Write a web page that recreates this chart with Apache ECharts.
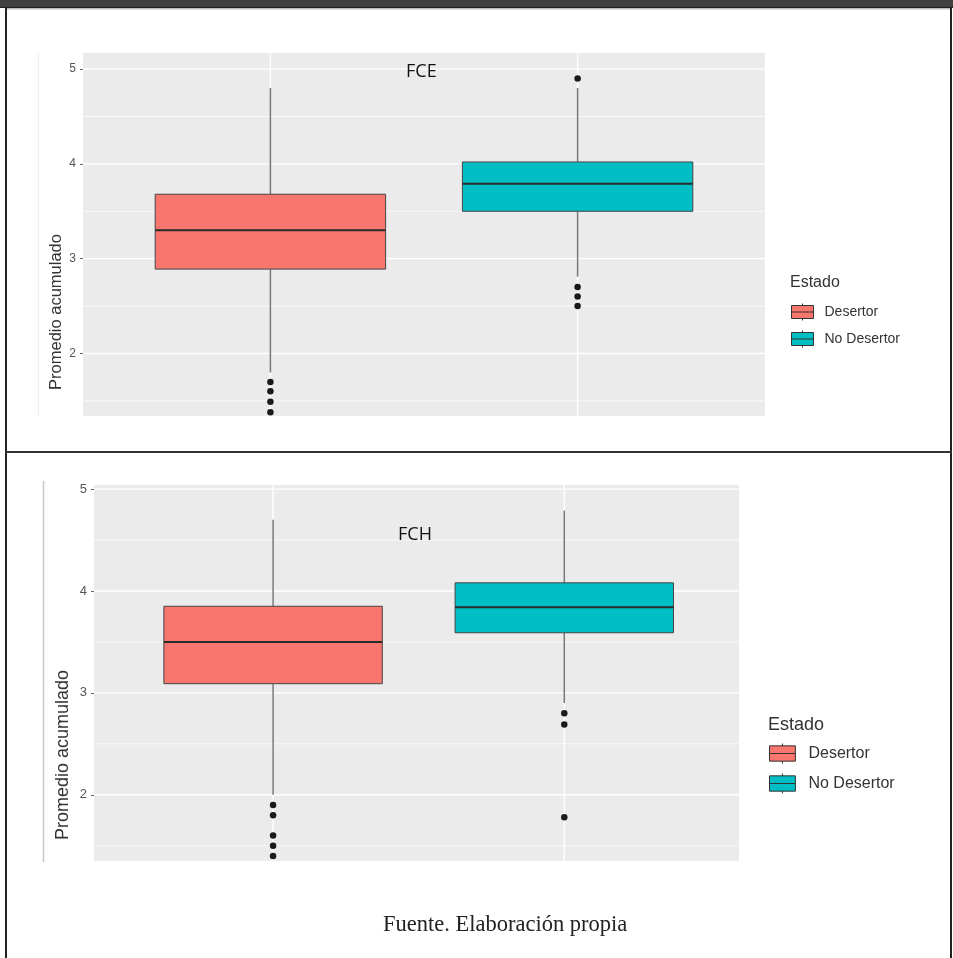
<!DOCTYPE html>
<html>
<head>
<meta charset="utf-8">
<script src="https://cdn.jsdelivr.net/npm/echarts@6/dist/echarts.min.js"></script>
<style>
  html, body { margin: 0; padding: 0; background: #fff; }
  #chart { width: 953px; height: 958px; }
</style>
</head>
<body>
<div id="chart"></div>
<script>
// categories and box values: [min whisker, Q1, median, Q3, max whisker]
const categories = ['Desertor', 'No Desertor'];
const colors = ['#F8766D', '#00BFC4'];
const fceBoxes = [
  [1.80, 2.89, 3.30, 3.68, 4.80],
  [2.81, 3.50, 3.79, 4.02, 4.80]
];
const fceOutliers = [
  [1.70, 1.60, 1.49, 1.38],
  [4.90, 2.70, 2.60, 2.50]
];
const fchBoxes = [
  [2.00, 3.09, 3.50, 3.85, 4.70],
  [2.90, 3.59, 3.84, 4.08, 4.79]
];
const fchOutliers = [
  [1.90, 1.80, 1.60, 1.50, 1.40],
  [2.80, 2.69, 1.78]
];
const yTicks = [2, 3, 4, 5];
const yMinor = [1.5, 2.5, 3.5, 4.5];

const boxWidth = 0.75;
const chart = echarts.init(document.getElementById('chart'));

// white ggplot-style grid lines, drawn through the axis scales
function gridSeries(idx) {
  const data = [];
  yTicks.forEach(v => data.push([1, v, 0]));
  yMinor.forEach(v => data.push([1, v, 1]));
  categories.forEach((c, i) => data.push([i + 1, 3, 2]));
  return {
    type: 'custom', xAxisIndex: idx, yAxisIndex: idx, silent: true, z: 1,
    clip: true, data: data, encode: { x: 0, y: 1 },
    renderItem: (params, api) => {
      const cs = params.coordSys;
      const kind = api.value(2);
      if (kind === 2) {
        const x = api.coord([api.value(0), 3])[0];
        return { type: 'line', shape: { x1: x, y1: cs.y, x2: x, y2: cs.y + cs.height },
          style: { stroke: '#ffffff', lineWidth: 1.4 } };
      }
      const y = api.coord([1, api.value(1)])[1];
      return { type: 'line', shape: { x1: cs.x, y1: y, x2: cs.x + cs.width, y2: y },
        style: { stroke: '#ffffff', lineWidth: kind === 0 ? 1.4 : 0.7 } };
    }
  };
}

function boxSeries(idx, boxes, i) {
  return {
    name: categories[i], type: 'custom', xAxisIndex: idx, yAxisIndex: idx, z: 3,
    itemStyle: { color: colors[i], borderColor: '#333' },
    data: [[i + 1].concat(boxes[i])],
    encode: { x: 0, y: [1, 2, 3, 4, 5] },
    renderItem: (params, api) => {
      const x = api.value(0);
      const px = api.coord([x, api.value(3)])[0];
      const yMin = api.coord([x, api.value(1)])[1];
      const yQ1 = api.coord([x, api.value(2)])[1];
      const yMed = api.coord([x, api.value(3)])[1];
      const yQ3 = api.coord([x, api.value(4)])[1];
      const yMax = api.coord([x, api.value(5)])[1];
      const w = api.size([boxWidth, 0])[0];
      return { type: 'group', children: [
        { type: 'line', shape: { x1: px, y1: yMax, x2: px, y2: yQ3 }, style: { stroke: '#777', lineWidth: 1.5 } },
        { type: 'line', shape: { x1: px, y1: yQ1, x2: px, y2: yMin }, style: { stroke: '#777', lineWidth: 1.5 } },
        { type: 'rect', shape: { x: px - w / 2, y: yQ3, width: w, height: yQ1 - yQ3 },
          style: { fill: colors[i], stroke: '#444', lineWidth: 1 } },
        { type: 'line', shape: { x1: px - w / 2, y1: yMed, x2: px + w / 2, y2: yMed },
          style: { stroke: '#2b2b2b', lineWidth: 2 } }
      ] };
    }
  };
}

function outlierSeries(idx, outliers) {
  const data = [];
  outliers.forEach((arr, i) => arr.forEach(v => data.push([i + 1, v])));
  return {
    type: 'scatter', xAxisIndex: idx, yAxisIndex: idx, z: 4, silent: true,
    symbolSize: 6.5, itemStyle: { color: '#1a1a1a', opacity: 1 }, data: data
  };
}

function yAxis(idx, min, max, fs) {
  return {
    type: 'value', gridIndex: idx, min: min, max: max,
    axisLine: { show: false },
    splitLine: { show: false },
    axisTick: { show: true, length: 3, customValues: yTicks, lineStyle: { color: '#666' } },
    axisLabel: { customValues: yTicks, color: '#555', fontSize: fs, margin: 7, fontFamily: 'Liberation Sans' }
  };
}

const keyIcon = 'path://M0,2L22,2L22,15L0,15Z M0,8.5L22,8.5 M11,0L11,2 M11,15L11,17';
const textFont = 'Liberation Sans';

chart.setOption({
  animation: false,
  title: [
    { text: 'FCE', left: 406, top: 63, padding: 0,
      textStyle: { fontSize: 18, fontWeight: 'normal', color: '#111', fontFamily: 'Open Sans' } },
    { text: 'FCH', left: 398, top: 526, padding: 0,
      textStyle: { fontSize: 18, fontWeight: 'normal', color: '#111', fontFamily: 'Open Sans' } },
    { text: 'Fuente. Elaboración propia', left: 383, top: 914, padding: 0,
      textStyle: { fontSize: 22.5, fontWeight: 'normal', color: '#222', fontFamily: 'Liberation Serif' } }
  ],
  grid: [
    { left: 83, top: 53, width: 682, height: 363, show: true, backgroundColor: '#EBEBEB', borderWidth: 0 },
    { left: 94, top: 485, width: 645, height: 376, show: true, backgroundColor: '#EBEBEB', borderWidth: 0 }
  ],
  xAxis: [
    { type: 'value', gridIndex: 0, min: 0.39, max: 2.61, show: false },
    { type: 'value', gridIndex: 1, min: 0.385, max: 2.6, show: false }
  ],
  yAxis: [yAxis(0, 1.34, 5.17, 12), yAxis(1, 1.35, 5.04, 13)],
  legend: [
    { orient: 'vertical', left: 791, top: 303, padding: 0, itemGap: 9,
      itemWidth: 22, itemHeight: 17, icon: keyIcon, selectedMode: false, data: categories,
      itemStyle: { borderColor: '#333', borderWidth: 1 },
      textStyle: { fontSize: 14, color: '#333', fontFamily: textFont, padding: [0, 0, 0, 6] } },
    { orient: 'vertical', left: 769, top: 743, padding: 0, itemGap: 9,
      itemWidth: 26, itemHeight: 20, icon: keyIcon, selectedMode: false, data: categories,
      itemStyle: { borderColor: '#333', borderWidth: 1 },
      textStyle: { fontSize: 16, color: '#333', fontFamily: textFont, padding: [0, 0, 0, 8] } }
  ],
  graphic: [
    // page frame
    { type: 'rect', shape: { x: 0, y: 0, width: 953, height: 8 }, style: { fill: '#404040' } },
    { type: 'rect', shape: { x: 0, y: 7, width: 953, height: 1 }, style: { fill: '#1e1e1e' } },
    { type: 'rect', shape: { x: 7, y: 8, width: 943, height: 1.5 }, style: { fill: '#bdbdbd' } },
    { type: 'rect', shape: { x: 5, y: 8, width: 2, height: 950 }, style: { fill: '#222' } },
    { type: 'rect', shape: { x: 950, y: 8, width: 2, height: 950 }, style: { fill: '#222' } },
    { type: 'rect', shape: { x: 5, y: 451, width: 947, height: 2 }, style: { fill: '#333' } },
    // faint left edges of the pasted plots
    { type: 'line', shape: { x1: 38.5, y1: 53, x2: 38.5, y2: 416 }, style: { stroke: '#eeeeee', lineWidth: 1 } },
    { type: 'line', shape: { x1: 43.5, y1: 481, x2: 43.5, y2: 862 }, style: { stroke: '#c8c8c8', lineWidth: 1.5 } },
    // y axis titles
    { type: 'text', x: 56, y: 312, rotation: Math.PI / 2,
      style: { text: 'Promedio acumulado', fontSize: 16.5, fill: '#333', fontFamily: textFont, align: 'center', verticalAlign: 'middle' } },
    { type: 'text', x: 63, y: 755, rotation: Math.PI / 2,
      style: { text: 'Promedio acumulado', fontSize: 18, fill: '#333', fontFamily: textFont, align: 'center', verticalAlign: 'middle' } },
    // legend titles
    { type: 'text', x: 790, y: 283,
      style: { text: 'Estado', fontSize: 16, fill: '#333', fontFamily: textFont, verticalAlign: 'middle' } },
    { type: 'text', x: 768, y: 725,
      style: { text: 'Estado', fontSize: 18, fill: '#333', fontFamily: textFont, verticalAlign: 'middle' } }
  ],
  series: [
    gridSeries(0),
    boxSeries(0, fceBoxes, 0),
    boxSeries(0, fceBoxes, 1),
    outlierSeries(0, fceOutliers),
    gridSeries(1),
    boxSeries(1, fchBoxes, 0),
    boxSeries(1, fchBoxes, 1),
    outlierSeries(1, fchOutliers)
  ]
});
</script>
</body>
</html>
